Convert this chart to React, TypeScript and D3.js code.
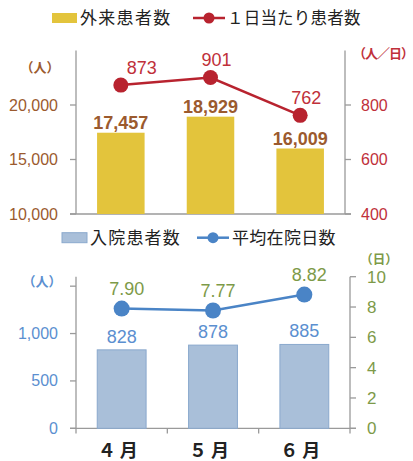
import React from "react";
import * as d3 from "d3";

const months = ["４月", "５月", "６月"];
const outpatients = [17457, 18929, 16009];
const dailyPatients = [873, 901, 762];
const inpatients = [828, 878, 885];
const avgStay = [7.9, 7.77, 8.82];

const topLeftTicks = [10000, 15000, 20000];
const topRightTicks = [400, 600, 800];
const botLeftTicks = [0, 500, 1000, 1500];
const botLeftLabeled = [0, 500, 1000];
const botRightTicks = [0, 2, 4, 6, 8, 10];

const JP = "'Noto Sans CJK JP', 'Noto Sans', sans-serif";
const NUM = "'Liberation Sans', Arial, sans-serif";

const YELLOW = "#E3C43C";
const BROWN = "#9B5A2E";
const RED = "#B8232F";
const RED_TXT = "#C0303A";
const BLUE_BAR = "#A9BFD9";
const BLUE_STROKE = "#8AA9CD";
const BLUE_LINE = "#4A84C6";
const BLUE_TXT = "#5B8FD0";
const GREEN = "#7D9A48";
const AXIS = "#9a9a9a";

export default function App() {
  // top chart
  const tx = d3.scaleBand<string>().domain(months).range([76, 345]).paddingInner(0.47).paddingOuter(0.235);
  const tyL = d3.scaleLinear().domain([10000, 25000]).range([214, 50.5]);
  const tyR = d3.scaleLinear().domain([400, 1000]).range([214, 50.5]);
  const topLine = d3
    .line<number>()
    .x((_, i) => tx(months[i])! + tx.bandwidth() / 2)
    .y((d) => tyR(d));
  const topLabelDx = [21, 6, 6];

  // bottom chart
  const bx = d3.scaleBand<string>().domain(months).range([76, 350]).paddingInner(0.465).paddingOuter(0.2325);
  const byL = d3.scaleLinear().domain([0, 1600]).range([428.3, 276.7]);
  const byR = d3.scaleLinear().domain([0, 10]).range([428.3, 276.7]);
  const botLine = d3
    .line<number>()
    .x((_, i) => bx(months[i])! + bx.bandwidth() / 2)
    .y((d) => byR(d));
  const fmt = d3.format(",");

  return (
    <svg width={413} height={461} style={{ position: "absolute", left: 0, top: 0 }}>
      <rect width={413} height={461} fill="#fff" />
      {/* top legend */}
      <rect x={52} y={13} width={25} height={10} fill={YELLOW} />
      <text x={80} y={23.5} fontFamily={JP} fontSize={17} letterSpacing={1.3} fill="#222">外来患者数</text>
      <line x1={193} x2={225} y1={18} y2={18} stroke={RED} strokeWidth={2.5} />
      <circle cx={209} cy={18} r={5.5} fill={RED} />
      <text x={227} y={23.5} fontFamily={JP} fontSize={16.5} letterSpacing={0.2} fill="#222">１日当たり患者数</text>

      {/* top axes */}
      <line x1={76} x2={76} y1={50.5} y2={214} stroke={AXIS} strokeWidth={1.3} />
      <line x1={345} x2={345} y1={50.5} y2={214} stroke={AXIS} strokeWidth={1.3} />
      <line x1={70} x2={351} y1={214} y2={214} stroke={AXIS} strokeWidth={1.3} />
      {topLeftTicks.map((t) => (
        <g key={"tl" + t}>
          <line x1={70} x2={76} y1={tyL(t)} y2={tyL(t)} stroke={AXIS} strokeWidth={1.3} />
          <text x={58} y={tyL(t) + 5.5} textAnchor="end" fontFamily={NUM} fontSize={16} fill={BROWN}>{fmt(t)}</text>
        </g>
      ))}
      {topRightTicks.map((t) => (
        <g key={"tr" + t}>
          <line x1={345} x2={351} y1={tyR(t)} y2={tyR(t)} stroke={AXIS} strokeWidth={1.3} />
          <text x={361} y={tyR(t) + 5.5} fontFamily={NUM} fontSize={16} fill={RED_TXT}>{t}</text>
        </g>
      ))}
      <text x={40} y={72} textAnchor="middle" fontFamily={JP} fontWeight="bold" fontSize={13} fill={BROWN}>（人）</text>
      <text x={383} y={58} textAnchor="middle" letterSpacing={-1} fontFamily={JP} fontWeight="bold" fontSize={13} fill={RED_TXT}>（人／日）</text>

      {outpatients.map((v, i) => (
        <g key={"ob" + i}>
          <rect x={tx(months[i])} y={tyL(v)} width={tx.bandwidth()} height={214 - tyL(v)} fill={YELLOW} />
          <text x={tx(months[i])! + tx.bandwidth() / 2} y={tyL(v) - 3.5} textAnchor="middle" fontFamily={NUM} fontWeight="bold" fontSize={18} fill={BROWN}>{fmt(v)}</text>
        </g>
      ))}
      <path d={topLine(dailyPatients)!} fill="none" stroke={RED} strokeWidth={2.5} />
      {dailyPatients.map((v, i) => {
        const cx = tx(months[i])! + tx.bandwidth() / 2;
        return (
          <g key={"dp" + i}>
            <circle cx={cx} cy={tyR(v)} r={7.5} fill={RED} />
            <text x={cx + topLabelDx[i]} y={tyR(v) - 11} textAnchor="middle" fontFamily={NUM} fontSize={18} fill={RED_TXT}>{v}</text>
          </g>
        );
      })}

      {/* bottom legend */}
      <rect x={62} y={232.7} width={25} height={10} fill={BLUE_BAR} stroke={BLUE_STROKE} strokeWidth={1} />
      <text x={90} y={243.5} fontFamily={JP} fontSize={17} letterSpacing={1.2} fill="#222">入院患者数</text>
      <line x1={197} x2={229} y1={237.7} y2={237.7} stroke={BLUE_LINE} strokeWidth={2.5} />
      <circle cx={213} cy={237.7} r={5.5} fill={BLUE_LINE} />
      <text x={232} y={243.5} fontFamily={JP} fontSize={17} letterSpacing={0.3} fill="#222">平均在院日数</text>

      {/* bottom axes */}
      <line x1={76} x2={76} y1={276.7} y2={428.3} stroke={AXIS} strokeWidth={1.3} />
      <line x1={350} x2={350} y1={276.7} y2={428.3} stroke={AXIS} strokeWidth={1.3} />
      <line x1={70} x2={356} y1={428.3} y2={428.3} stroke={AXIS} strokeWidth={1.3} />
      {botLeftTicks.map((t) => (
        <g key={"bl" + t}>
          <line x1={70} x2={76} y1={byL(t)} y2={byL(t)} stroke={AXIS} strokeWidth={1.3} />
          {botLeftLabeled.includes(t) && (
            <text x={58} y={byL(t) + 5.5} textAnchor="end" fontFamily={NUM} fontSize={16} fill={BLUE_TXT}>{fmt(t)}</text>
          )}
        </g>
      ))}
      {botRightTicks.map((t) => (
        <g key={"br" + t}>
          <line x1={350} x2={356} y1={byR(t)} y2={byR(t)} stroke={AXIS} strokeWidth={1.3} />
          <text x={367} y={byR(t) + 6} fontFamily={NUM} fontSize={17} fill={GREEN}>{t}</text>
        </g>
      ))}
      {[0, 1, 2, 3].map((k) => {
        const x = 76 + (k * (350 - 76)) / 3;
        return <line key={"xt" + k} x1={x} x2={x} y1={428.3} y2={433.5} stroke={AXIS} strokeWidth={1.3} />;
      })}
      <text x={42} y={286} textAnchor="middle" fontFamily={JP} fontWeight="bold" fontSize={13} fill={BLUE_TXT}>（人）</text>
      <text x={379} y={264} textAnchor="middle" fontFamily={JP} fontWeight="bold" fontSize={12.5} fill={GREEN}>（日）</text>

      {inpatients.map((v, i) => (
        <g key={"ib" + i}>
          <rect x={bx(months[i])} y={byL(v)} width={bx.bandwidth()} height={428.3 - byL(v)} fill={BLUE_BAR} stroke={BLUE_STROKE} strokeWidth={1} />
          <text x={bx(months[i])! + bx.bandwidth() / 2} y={byL(v) - 7} textAnchor="middle" fontFamily={NUM} fontSize={18} fill={BLUE_TXT}>{v}</text>
        </g>
      ))}
      <path d={botLine(avgStay)!} fill="none" stroke={BLUE_LINE} strokeWidth={2.5} />
      {avgStay.map((v, i) => {
        const cx = bx(months[i])! + bx.bandwidth() / 2;
        return (
          <g key={"as" + i}>
            <circle cx={cx} cy={byR(v)} r={8} fill={BLUE_LINE} />
            <text x={cx + 5} y={byR(v) - 13.5} textAnchor="middle" fontFamily={NUM} fontSize={18} fill={GREEN}>{v.toFixed(2)}</text>
          </g>
        );
      })}
      {months.map((m) => (
        <text key={m} x={bx(m)! + bx.bandwidth() / 2 - 2} y={456.5} textAnchor="middle" letterSpacing={4} fontFamily={JP} fontWeight="bold" fontSize={18} fill="#222">{m}</text>
      ))}
    </svg>
  );
}
